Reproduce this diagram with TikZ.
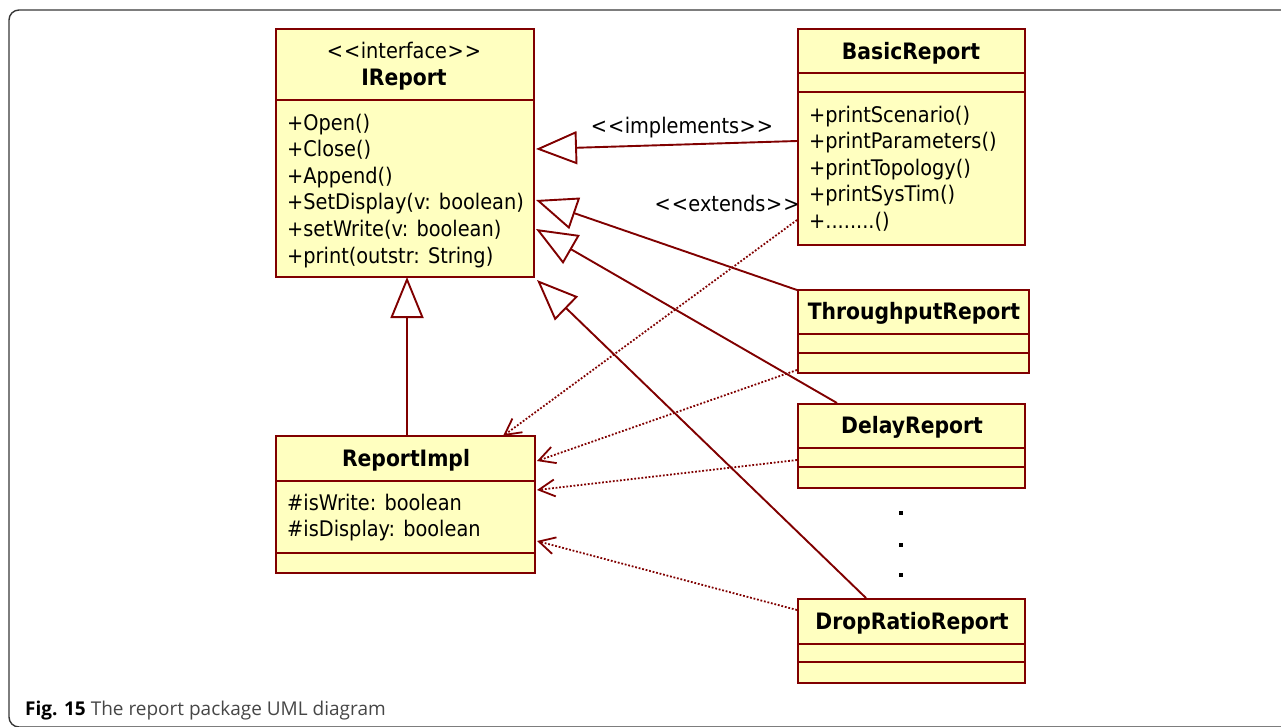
\documentclass[tikz,border=0pt]{standalone}
\usepackage{fontspec}
\setmainfont{DejaVu Sans Condensed}
\newfontfamily\capfont{Open Sans}
\usetikzlibrary{arrows.meta}

\definecolor{umlred}{RGB}{128,0,0}
\definecolor{umlfill}{RGB}{255,255,192}
\definecolor{framegray}{RGB}{55,55,55}
\definecolor{capgray}{RGB}{70,70,70}

% stereotype brackets, kept as two separate angle characters
\newcommand{\stlt}{<\kern1pt<\kern0.5pt}
\newcommand{\stgt}{\kern0.5pt>\kern1pt>}

\begin{document}
\begin{tikzpicture}[x=1pt,y=-1pt,
  cls/.style={draw=umlred, fill=umlfill, line width=2.2pt, anchor=north west, inner sep=0pt},
  sep/.style={draw=umlred, line width=2.6pt},
  member/.style={font=\fontsize{21.5}{26}\selectfont, inner sep=0pt, anchor=base west},
  ctitle/.style={font=\fontsize{22.6}{26}\selectfont\bfseries, inner sep=0pt, anchor=base},
  stereo/.style={font=\fontsize{21.5}{26}\selectfont, inner sep=0pt, anchor=base},
  gen/.style={draw=umlred, line width=1.9pt,
    -{Triangle[open, length=41pt, width=33pt, fill=white, line width=1.9pt]}},
  dep/.style={draw=umlred, line width=1.8pt, dash pattern=on 1.8pt off 1.8pt,
    -{Straight Barb[length=16pt, width=17pt, line width=1.8pt]}},
  dot/.style={fill=black, inner sep=0pt, minimum size=4pt}
]
\useasboundingbox (0,0) rectangle (1281,726);

% enclosing frame of the figure
\draw[framegray, line width=1.4pt, rounded corners=10pt] (9,10) rectangle (1300,727);

% ---- IReport ----
\node[cls, minimum width=258pt, minimum height=248pt] (ireport) at (275,28) {};
\draw[sep] (275,100) -- (535,100);
\node[stereo] (ir-st) at (404,58) {\stlt interface\stgt};
\node[ctitle] (ir-t) at (404,85) {IReport};
\foreach \m [count=\i] in {+Open(),+Close(),+Append(),+SetDisplay(v: boolean),+setWrite(v: boolean),+print(outstr: String)}
  \node[member] (ir-m\i) at (287,{130+26.6*(\i-1)}) {\m};

% ---- BasicReport ----
\node[cls, minimum width=227pt, minimum height=216pt] (basic) at (797,28) {};
\draw[sep] (797,73) -- (1026,73);
\draw[sep] (797,92) -- (1026,92);
\node[ctitle] (br-t) at (911,59) {BasicReport};
\foreach \m [count=\i] in {+printScenario(),+printParameters(),+printTopology(),+printSysTim()}
  \node[member] (br-m\i) at (809,{122.5+26.4*(\i-1)}) {\m};
\node[member] (br-m5) at (809,228.1) {+........()};

% ---- ThroughputReport ----
\node[cls, minimum width=231pt, minimum height=83pt] (through) at (797,289) {};
\draw[sep] (797,334) -- (1030,334);
\draw[sep] (797,353) -- (1030,353);
\node[ctitle] (tr-t) at (914,319) {ThroughputReport};

% ---- DelayReport ----
\node[cls, minimum width=227pt, minimum height=84pt] (delay) at (797,403) {};
\draw[sep] (797,448) -- (1026,448);
\draw[sep] (797,467) -- (1026,467);
\node[ctitle] (dr-t) at (912,433) {DelayReport};

% ---- DropRatioReport ----
\node[cls, minimum width=227pt, minimum height=84pt] (drop) at (797,598) {};
\draw[sep] (797,644) -- (1026,644);
\draw[sep] (797,662) -- (1026,662);
\node[ctitle] (dp-t) at (912,629) {DropRatioReport};

% ---- ReportImpl ----
\node[cls, minimum width=259pt, minimum height=137pt] (impl) at (275,435) {};
\draw[sep] (275,481) -- (536,481);
\draw[sep] (275,553) -- (536,553);
\node[ctitle] (ri-t) at (406,466) {ReportImpl};
\node[member] (ri-a1) at (287,510.5) {\#isWrite: boolean};
\node[member] (ri-a2) at (287,536.5) {\#isDisplay: boolean};

% elision dots between the report subclasses
\node[dot] (d1) at (901,513) {};
\node[dot] (d2) at (901,545) {};
\node[dot] (d3) at (901,575) {};

% attachment points on the class boxes
\coordinate (ir-impl)    at (536,149);
\coordinate (ir-through) at (536,200);
\coordinate (ir-delay)   at (536,229);
\coordinate (ir-drop)    at (537,280);
\coordinate (ir-bottom)  at (407,277);
\coordinate (br-left)    at (797,141);
\coordinate (br-ext)     at (797,220);
\coordinate (tr-corner)  at (797,290);
\coordinate (tr-ext)     at (797,370);
\coordinate (dr-top)     at (837,403);
\coordinate (dr-ext)     at (797,460);
\coordinate (dp-top)     at (866,598);
\coordinate (dp-ext)     at (797,610);
\coordinate (ri-top)     at (407,435);
\coordinate (ri-ext1)    at (503,436);
\coordinate (ri-ext2)    at (537,461);
\coordinate (ri-ext3)    at (537,490);
\coordinate (ri-ext4)    at (537,541);

% generalisation / realisation
\draw[gen] (br-left) -- (ir-impl);
\draw[gen] (tr-corner) -- (ir-through);
\draw[gen] (dr-top) -- (ir-delay);
\draw[gen] (dp-top) -- (ir-drop);
\draw[gen, line width=2.8pt] (ri-top) -- (ir-bottom);

% dependencies on the implementation class
\draw[dep] (br-ext) -- (ri-ext1);
\draw[dep] (tr-ext) -- (ri-ext2);
\draw[dep] (dr-ext) -- (ri-ext3);
\draw[dep] (dp-ext) -- (ri-ext4);

% connector labels
\node[stereo] (lbl-impl) at (682,133) {\stlt implements\stgt};
\node[stereo] (lbl-ext) at (727,211) {\stlt extends\stgt};

% caption
\node[inner sep=0pt, anchor=base west, font=\capfont\fontsize{19}{22}\selectfont, text=capgray] (cap) at (25,715)
  {\textcolor{black}{\textbf{Fig. 15}} The report package UML diagram};
\end{tikzpicture}
\end{document}
